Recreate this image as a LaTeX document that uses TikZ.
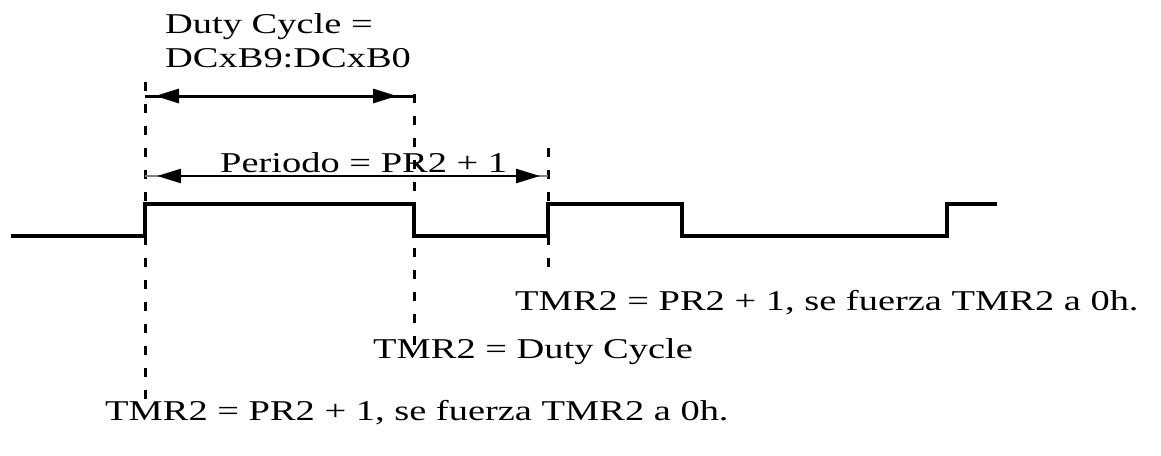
\documentclass[tikz,border=0pt]{standalone}
\usepackage{fontspec}
\setmainfont{Liberation Serif}[FakeStretch=1.34]
\usetikzlibrary{arrows.meta}

\begin{document}
\begin{tikzpicture}[x=1pt, y=-1pt, >={Triangle[length=24pt, width=14pt]},
  lbl/.style={font=\fontsize{28.7}{34}\selectfont, inner sep=0pt, anchor=base west},
  guide/.style={line width=3pt, dash pattern=on 9pt off 13pt},
  wave/.style={line width=3.5pt},
  dimline/.style={line width=#1},
  dimline/.default=3pt]
  \useasboundingbox (0,0) rectangle (1161,455);

  % pwm signal
  \draw[wave] (11,236) -- (145,236) -- (145,204) -- (414,204) -- (414,236)
    -- (548,236) -- (548,204) -- (682,204) -- (682,236) -- (947,236)
    -- (947,204) -- (997,204);

  % guide lines
  \coordinate (g1top) at (145,82);
  \coordinate (g1bot) at (145,400);
  \coordinate (g2top) at (414,94);
  \coordinate (g2bot) at (414,346);
  \coordinate (g3top) at (548,148);
  \coordinate (g3bot) at (548,278);
  \draw[guide] (g1top) -- (g1bot);
  \draw[guide] (g2top) -- (g2bot);
  \draw[guide] (g3top) -- (g3bot);

  % duty cycle
  \node[lbl] (dc1) at (165,33) {Duty Cycle =};
  \node[lbl] (dc2) at (165,67) {DCxB9:DCxB0};
  \coordinate (dA) at (145,96);
  \coordinate (dB) at (414,96);
  \draw[dimline] (dA) -- (dB);
  \draw[dimline, <->, shorten <=10pt, shorten >=17pt] (dA) -- (dB);

  % period
  \node[lbl] (per) at (220,172) {Periodo = PR2 + 1};
  \coordinate (pA) at (145,176);
  \coordinate (pB) at (548,176);
  \draw[dimline=2.5pt, gray] (pA) -- (pB);
  \draw[dimline=2.5pt, <->, shorten <=12pt, shorten >=8pt] (pA) -- (pB);

  % events
  \node[lbl] (ev3) at (515,310) {TMR2 = PR2 + 1, se fuerza TMR2 a 0h.};
  \node[lbl] (ev2) at (373,358) {TMR2 = Duty Cycle};
  \node[lbl] (ev1) at (105,420) {TMR2 = PR2 + 1, se fuerza TMR2 a 0h.};
\end{tikzpicture}
\end{document}
